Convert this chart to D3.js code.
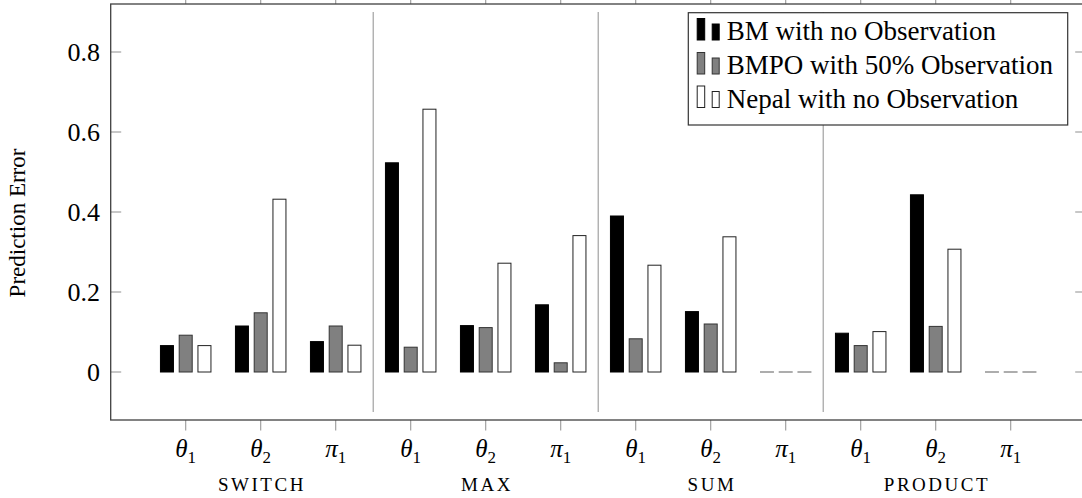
<!DOCTYPE html>
<html><head><meta charset="utf-8">
<script src="https://cdn.jsdelivr.net/npm/d3@7"></script>
<style>body{margin:0;background:#fff}svg{display:block}text{font-family:"Liberation Serif","Times New Roman",serif}</style>
</head><body><svg id="c" width="1082" height="498"></svg>
<script>
const groups = ["SWITCH","MAX","SUM","PRODUCT"];
const params = [["θ","1"],["θ","2"],["π","1"]];
const seriesNames = ["BM with no Observation","BMPO with 50% Observation","Nepal with no Observation"];
const bm    = [0.066,0.115,0.076, 0.523,0.116,0.168, 0.390,0.151,0, 0.097,0.443,0];
const bmpo  = [0.092,0.148,0.115, 0.062,0.111,0.023, 0.083,0.120,0, 0.066,0.114,0];
const nepal = [0.066,0.432,0.067, 0.657,0.272,0.341, 0.267,0.338,0, 0.101,0.307,0];
const yTicks = [0,0.2,0.4,0.6,0.8];
const yTickLabels = ["0","0.2","0.4","0.6","0.8"];

const series = [bm,bmpo,nepal];
const fills = ["#000","#808080","#fff"];
const strokes = ["#000","#333","#222"];

const svg = d3.select("#c");
const L=110.7, R=1085.7, T=4, B=420;
const x = d3.scaleLinear().domain([0,13]).range([L,R]);
const y = d3.scaleLinear().domain([-0.12,0.92]).range([B,T]);

// separators
[3.5,6.5,9.5].forEach(s=>{
  svg.append("line").attr("x1",x(s)).attr("x2",x(s)).attr("y1",y(0.9)).attr("y2",y(-0.1))
    .attr("stroke","#999").attr("stroke-width",1.1);
});

// bars
const bw = 13/75;
const offs=[-0.25,0,0.25];
series.forEach((vals,si)=>{
  vals.forEach((v,i)=>{
    const cx = i+1+offs[si];
    if(v>0){
      svg.append("rect").attr("x",x(cx-bw/2)).attr("width",x(bw)-x(0))
        .attr("y",y(v)).attr("height",y(0)-y(v))
        .attr("fill",fills[si]).attr("stroke",strokes[si]).attr("stroke-width",1);
    } else {
      svg.append("line").attr("x1",x(cx-bw/2)-0.5).attr("x2",x(cx+bw/2)+0.5)
        .attr("y1",y(0)).attr("y2",y(0)).attr("stroke","#777").attr("stroke-width",1.2);
    }
  });
});

// y ticks (inside) left & right
yTicks.forEach((t,i)=>{
  svg.append("line").attr("x1",L).attr("x2",L+10.5).attr("y1",y(t)).attr("y2",y(t)).attr("stroke","#999").attr("stroke-width",1.1);
  svg.append("line").attr("x1",R).attr("x2",R-10.5).attr("y1",y(t)).attr("y2",y(t)).attr("stroke","#999").attr("stroke-width",1.1);
  svg.append("text").attr("x",100).attr("y",y(t)).attr("dy","0.35em").attr("text-anchor","end")
    .attr("font-size",26).attr("fill","#000").text(yTickLabels[i]);
});

// x ticks (outside) top & bottom
d3.range(1,13).forEach(k=>{
  svg.append("line").attr("x1",x(k)).attr("x2",x(k)).attr("y1",B).attr("y2",B+10.5).attr("stroke","#999").attr("stroke-width",1.1);
  svg.append("line").attr("x1",x(k)).attr("x2",x(k)).attr("y1",T).attr("y2",T-10.5).attr("stroke","#999").attr("stroke-width",1.1);
  const p = params[(k-1)%3];
  const t = svg.append("text").attr("x",x(k)).attr("y",457).attr("text-anchor","middle").attr("fill","#000");
  t.append("tspan").attr("font-size",25).attr("font-style","italic").text(p[0]);
  t.append("tspan").attr("font-size",17).attr("dy",6).text(p[1]);
});

// group labels
groups.forEach((g,i)=>{
  svg.append("text").attr("x",x(i*3+2)+1.25).attr("y",491).attr("text-anchor","middle")
    .attr("font-size",19).attr("letter-spacing","2.5px").attr("fill","#000").text(g);
});

// frame
svg.append("rect").attr("x",L).attr("y",T).attr("width",R-L).attr("height",B-T)
  .attr("fill","none").attr("stroke","#404040").attr("stroke-width",1.3);

// y label
svg.append("text").attr("transform","translate(25,223) rotate(-90)").attr("text-anchor","middle")
  .attr("font-size",23).attr("fill","#000").text("Prediction Error");

// legend
const lg = svg.append("g");
lg.append("rect").attr("x",688.3).attr("y",12.7).attr("width",379.4).attr("height",112.3)
  .attr("fill","#fff").attr("stroke","#333").attr("stroke-width",1.2);
const baselines=[40,74,107.5];
seriesNames.forEach((n,i)=>{
  const b=baselines[i];
  lg.append("rect").attr("x",697.2).attr("y",b-21.5).attr("width",7.5).attr("height",21.5)
    .attr("fill",fills[i]).attr("stroke",strokes[i]).attr("stroke-width",1);
  lg.append("rect").attr("x",712.2).attr("y",b-16).attr("width",7).attr("height",16)
    .attr("fill",fills[i]).attr("stroke",strokes[i]).attr("stroke-width",1);
  lg.append("text").attr("x",726.7).attr("y",b).attr("font-size",27).attr("fill","#000").text(n);
});
</script></body></html>
